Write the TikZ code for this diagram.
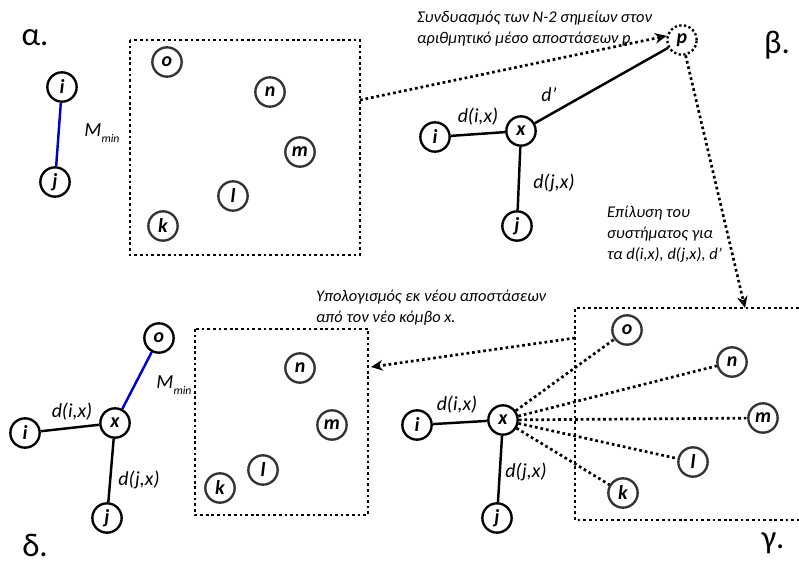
\documentclass[tikz,border=0pt]{standalone}
\usepackage{fontspec}
\setmainfont{Carlito}
\usetikzlibrary{arrows.meta}

\newcommand{\mmin}{\itshape M\raisebox{-5pt}{\fontsize{10}{10}\selectfont min}}

\begin{document}
\begin{tikzpicture}[x=0.03cm,y=-0.03cm,
    pt/.style={circle,draw,line width=2pt,minimum size=0.88cm,inner sep=0pt,
      font=\fontsize{17}{17}\selectfont\bfseries\itshape},
    gpt/.style={pt,draw=black!80},
    edge/.style={line width=2.1pt},
    minedge/.style={line width=2.1pt,blue!80!black},
    dots/.style={line width=2.3pt,dash pattern=on 2.3pt off 2.5pt},
    dotarrow/.style={dots,-{Stealth[length=10pt,width=9pt]}},
    lbl/.style={font=\fontsize{17}{17}\selectfont\itshape},
    note/.style={font=\fontsize{14}{18}\selectfont\itshape,align=left,anchor=west},
    panel/.style={font=\fontsize{28}{28}\selectfont}]
    \useasboundingbox (0,0) rectangle (799,564);

    % alpha
    \node[panel] (alpha) at (35,38) {α.};
    \node[pt] (ai) at (62,87) {i};
    \node[pt] (aj) at (55,182) {j};
    \draw[minedge] (ai) -- (aj);
    \node[lbl] (amin) at (102,133) {\mmin};
    \draw[dots] (130,40) rectangle (360,255);
    \coordinate (aout) at (360,100);
    \foreach \n/\x/\y in {o/167/62,n/270/92,m/300/152,l/233/196,k/163/226}
        \node[gpt] (a\n) at (\x,\y) {\n};

    % beta
    \node[panel] (beta) at (777,45) {β.};
    \node[circle,draw,line width=2pt,dash pattern=on 2pt off 2pt,minimum size=0.88cm,inner sep=0pt,
      font=\fontsize{17}{17}\selectfont\bfseries\itshape] (p) at (682,40) {\raisebox{-3pt}{p}};
    \node[pt] (bx) at (521,131) {x};
    \node[pt] (bi) at (435,137) {i};
    \node[pt] (bj) at (517,226) {j};
    \draw[edge] (bi) -- (bx);
    \draw[edge] (bx) -- (bj);
    \draw[edge] (bx) -- (p);
    \node[lbl] (bix) at (478,117) {d(i,x)};
    \node[lbl] (bpx) at (549,95) {d'};
    \node[lbl] (bjx) at (554,183) {d(j,x)};
    \node[note] (join) at (413,29) {Συνδυασμός των N-2 σημείων στον\\αριθμητικό μέσο αποστάσεων p};
    \draw[dotarrow] (aout) -- (p.165);
    \node[note] (solve) at (603,234) {Επίλυση του\\συστήματος για\\τα d(i,x), d(j,x), d'};

    % gamma
    \node[panel] (gamma) at (773,543) {γ.};
    \draw[dots] (799,308) -- (575,308) -- (575,520) -- (799,520);
    \coordinate (gtop) at (745,308);
    \coordinate (gout) at (575,338);
    \draw[dotarrow] (p) -- (gtop);
    \node[pt] (gx) at (503,420) {x};
    \node[pt] (gi) at (417,425) {i};
    \node[pt] (gj) at (497,518) {j};
    \draw[edge] (gi) -- (gx);
    \draw[edge] (gx) -- (gj);
    \node[lbl] (gix) at (457,405) {d(i,x)};
    \node[lbl] (gjx) at (526,472) {d(j,x)};
    \foreach \n/\x/\y in {o/627/330,n/732/362,m/763/418,l/693/462,k/623/493} {
        \node[gpt] (g\n) at (\x,\y) {\n};
        \draw[dots] (gx) -- (g\n);
    }
    \node[note] (redo) at (312,308) {Υπολογισμός εκ νέου αποστάσεων\\από τον νέο κόμβο x.};

    % delta
    \node[panel] (delta) at (35,545) {δ.};
    \node[pt] (dx) at (115,423) {x};
    \node[pt] (di) at (25,433) {i};
    \node[pt] (dj) at (107,518) {j};
    \node[pt] (do) at (159,338) {o};
    \draw[edge] (di) -- (dx);
    \draw[edge] (dx) -- (dj);
    \draw[minedge] (dx) -- (do);
    \node[lbl] (dmin) at (174,385) {\mmin};
    \node[lbl] (dix) at (72,412) {d(i,x)};
    \node[lbl] (djx) at (139,480) {d(j,x)};
    \draw[dots] (195,329) rectangle (368,515);
    \coordinate (din) at (371,367);
    \draw[dotarrow] (gout) -- (din);
    \foreach \n/\x/\y in {n/300/368,m/332/425,l/263/470,k/220/488}
        \node[gpt] (d\n) at (\x,\y) {\n};
\end{tikzpicture}
\end{document}
